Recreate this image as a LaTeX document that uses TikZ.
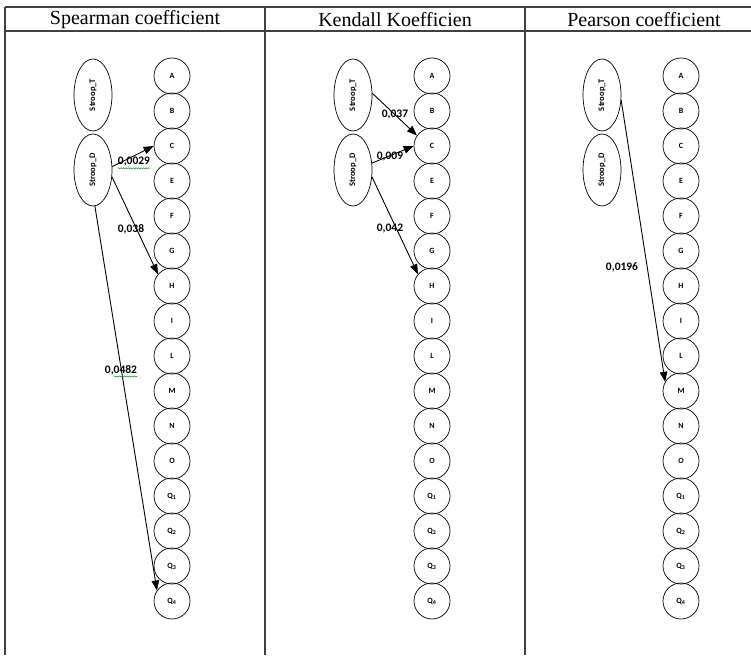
\documentclass[tikz,border=0pt]{standalone}
\usepackage{fontspec}
\usepackage{graphicx}
\setmainfont{Liberation Serif}
\newfontfamily\calibri{Carlito}
\usetikzlibrary{shapes.geometric,arrows.meta,decorations.pathmorphing}

\begin{document}
\begin{tikzpicture}[x=1pt,y=-1pt]
        \tikzstyle{grid}=[line width=1.3pt,draw=black!75]
        \tikzstyle{head}=[font=\fontsize{20}{24}\selectfont]
        \tikzstyle{fac}=[circle,draw,line width=0.7pt,minimum size=36pt,inner sep=0pt,font=\calibri\bfseries\fontsize{8}{9}\selectfont]
        \tikzstyle{strp}=[ellipse,draw,line width=0.7pt,minimum width=38pt,minimum height=72pt,inner sep=0pt,font=\calibri\bfseries\fontsize{8.5}{9}\selectfont]
        \tikzstyle{val}=[inner sep=0pt,font=\calibri\bfseries\fontsize{11.5}{13}\selectfont]
        \tikzstyle{rel}=[-{Triangle[length=10pt,width=7.5pt]},line width=0.9pt]
        \tikzstyle{spell}=[draw=green!60!black,line width=0.5pt,decorate,decoration={snake,amplitude=0.6pt,segment length=2.5pt}]
        \useasboundingbox (0,0) rectangle (751,655);
        % table frame
        \draw[grid] (5,7) -- (751,7) (5,31) -- (751,31);
        \draw[grid] (5,7) -- (5,655) (265,7) -- (265,655) (525,7) -- (525,655);
        \node[head] (hs) at (135,20) {Spearman coefficient};
        \node[head] (hk) at (395,20) {Kendall Koefficien};
        \node[head] (hp) at (644,20) {Pearson coefficient};
        % factors and stroop variables, one column per coefficient
        \foreach \c/\x in {s/172,k/432,p/681}{
                \foreach \f/\t [count=\i from 0] in {A/A,B/B,C/C,E/E,F/F,G/G,H/H,I/I,L/L,M/M,N/N,O/O,Qa/Q\textsubscript{1},Qb/Q\textsubscript{2},Qc/Q\textsubscript{3},Qd/Q\textsubscript{4}}
                        \node[fac] (\c\f) at (\x,76+35*\i) {\t};
                \node[strp] (\c T) at (\x-79,95) {\rotatebox{90}{Stroop\_T}};
                \node[strp] (\c D) at (\x-79,170) {\rotatebox{90}{Stroop\_D}};
        }
        % Spearman
        \draw[rel] (sD.10) -- (sC.west);
        \draw[rel] (sD.-20) -- (sH.140);
        \draw[rel] (sD.-87) -- (sQd.145);
        \node[val] (sv1) at (134,162) {0,0029};
        \node[val] (sv2) at (131,229) {0,038};
        \node[val] (sv3) at (121,370) {0,0482};
        \draw[spell] ([yshift=-1.5pt]sv1.south west) -- ([yshift=-1.5pt]sv1.south east);
        \draw[spell] ([xshift=9pt,yshift=-1.5pt]sv3.south west) -- ([yshift=-1.5pt]sv3.south east);
        % Kendall
        \draw[rel] (kT.5) -- (kC.145);
        \draw[rel] (kD.20) -- (kC.west);
        \draw[rel] (kD.-20) -- (kH.140);
        \node[val] (kv1) at (395,115) {0,037};
        \node[val] (kv2) at (390,157) {0,009};
        \node[val] (kv3) at (390,229) {0,042};
        % Pearson
        \draw[rel] (pT.-15) -- (pM.150);
        \node[val] (pv1) at (622,267) {0,0196};
\end{tikzpicture}
\end{document}
